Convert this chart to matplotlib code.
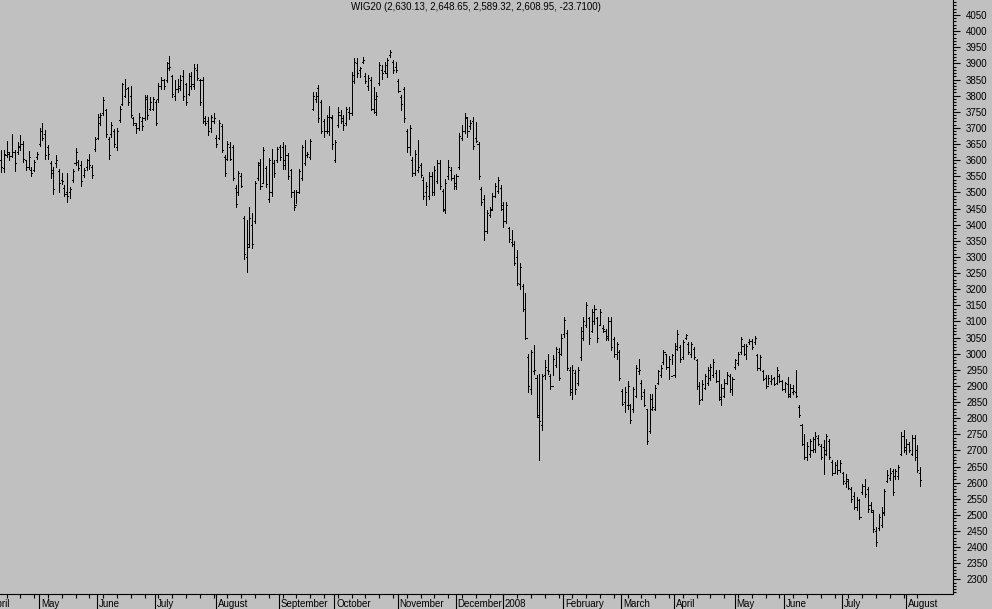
import matplotlib
matplotlib.use('Agg')
import matplotlib.pyplot as plt
import matplotlib.transforms as mtransforms
from matplotlib.ticker import MultipleLocator
import numpy as np

title = "WIG20 (2,630.13, 2,648.65, 2,589.32, 2,608.95, -23.7100)"

# month labels and the bar index where each month starts
month_labels = ['April', 'May', 'June', 'July', 'August', 'September', 'October',
                'November', 'December', '2008', 'February', 'March', 'April',
                'May', 'June', 'July', 'August']
month_starts = [-4, 14, 35, 56, 78, 101, 121, 144, 165, 182, 204, 225, 244,
                266, 284, 305, 328]

# daily OHLC, April 2007 - August 2008
highs = [
    # Apr 07
    3633, 3631, 3659, 3626, 3681, 3631, 3657, 3677, 3659, 3602, 3628, 3579, 3600, 3625,
    # May
    3701, 3714, 3693, 3647, 3598, 3579, 3616, 3572, 3561, 3522, 3559, 3517, 3572, 3639,
    3600, 3597, 3576, 3605, 3618, 3584, 3672,
    # Jun
    3742, 3745, 3795, 3760, 3672, 3717, 3696, 3700, 3768, 3840, 3853, 3828, 3830, 3735,
    3714, 3745, 3735, 3802, 3802, 3795, 3797,
    # Jul
    3786, 3838, 3859, 3853, 3905, 3923, 3864, 3848, 3853, 3864, 3879, 3838, 3869, 3874,
    3898, 3898, 3853, 3857, 3737, 3735, 3740, 3745,
    # Aug
    3678, 3726, 3712, 3616, 3660, 3657, 3647, 3523, 3567, 3559, 3426, 3416, 3455, 3435,
    3536, 3594, 3605, 3640, 3582, 3608, 3636, 3600, 3642,
    # Sep
    3647, 3657, 3647, 3621, 3574, 3507, 3507, 3574, 3647, 3662, 3626, 3667, 3812, 3812,
    3833, 3786, 3729, 3740, 3768, 3740,
    # Oct
    3664, 3766, 3755, 3740, 3766, 3766, 3874, 3916, 3916, 3890, 3919, 3869, 3864, 3859,
    3828, 3812, 3905, 3895, 3905, 3916, 3943, 3910, 3905,
    # Nov
    3853, 3802, 3828, 3698, 3709, 3610, 3631, 3662, 3590, 3548, 3533, 3564, 3564, 3581,
    3600, 3600, 3512, 3543, 3600, 3579, 3554,
    # Dec
    3556, 3683, 3709, 3747, 3735, 3724, 3735, 3719, 3657, 3517, 3492, 3445, 3455, 3497,
    3528, 3548, 3522,
    # Jan 08
    3471, 3471, 3393, 3383, 3350, 3323, 3280, 3217, 3188, 3000, 3011, 3026, 2933, 2938,
    2938, 2980, 2999, 2938, 2995, 3021, 3019, 3062,
    # Feb
    3114, 3073, 2959, 2964, 2949, 2959, 3083, 3114, 3161, 3114, 3140, 3150, 3114, 3140,
    3088, 3078, 3114, 3114, 3052, 3036, 3011,
    # Mar
    2892, 2897, 2915, 2845, 2897, 2964, 2985, 2917, 2892, 2830, 2876, 2876, 2902, 2948,
    2964, 3012, 3000, 2992, 3000,
    # Apr
    3033, 3072, 3026, 3041, 3062, 3036, 3036, 3021, 2985, 2912, 2917, 2938, 2959, 2969,
    2985, 2948, 2948, 2907, 2923, 2943, 2938, 2928,
    # May
    2985, 3005, 3052, 3031, 3031, 3044, 3046, 3054, 3000, 2995, 2948, 2933, 2933, 2933,
    2928, 2959, 2936, 2917,
    # Jun
    2912, 2928, 2907, 2902, 2950, 2840, 2783, 2752, 2726, 2736, 2742, 2757, 2747, 2721,
    2731, 2752, 2736, 2671, 2664, 2669, 2669,
    # Jul
    2633, 2628, 2612, 2586, 2571, 2555, 2550, 2597, 2610, 2588, 2540, 2514, 2462, 2504,
    2524, 2581, 2638, 2646, 2643, 2643, 2654, 2757, 2762,
    # Aug
    2736, 2726, 2747, 2747, 2716, 2649,
]
lows = [
    3564, 3564, 3610, 3600, 3610, 3567, 3618, 3631, 3595, 3569, 3572, 3550, 3566, 3603,
    3645, 3662, 3605, 3605, 3546, 3494, 3579, 3502, 3525, 3488, 3471, 3484, 3533, 3584,
    3569, 3520, 3548, 3571, 3574, 3545, 3629,
    3665, 3709, 3740, 3672, 3605, 3672, 3641, 3631, 3719, 3771, 3797, 3771, 3735, 3709,
    3685, 3693, 3695, 3724, 3729, 3755, 3755,
    3709, 3781, 3822, 3822, 3843, 3879, 3797, 3786, 3812, 3817, 3786, 3771, 3802, 3822,
    3822, 3848, 3771, 3714, 3709, 3678, 3688, 3714,
    3642, 3667, 3626, 3550, 3600, 3600, 3538, 3455, 3492, 3517, 3295, 3254, 3331, 3329,
    3404, 3538, 3512, 3533, 3517, 3471, 3488, 3548, 3595,
    3600, 3574, 3574, 3543, 3486, 3447, 3466, 3497, 3538, 3585, 3610, 3605, 3755, 3781,
    3719, 3683, 3672, 3683, 3678, 3636,
    3595, 3704, 3714, 3693, 3709, 3729, 3740, 3838, 3859, 3857, 3900, 3838, 3817, 3755,
    3745, 3740, 3833, 3853, 3869, 3859, 3921, 3869, 3874,
    3812, 3755, 3719, 3626, 3616, 3551, 3554, 3564, 3548, 3481, 3461, 3481, 3492, 3492,
    3528, 3512, 3443, 3435, 3543, 3538, 3512,
    3512, 3574, 3662, 3683, 3672, 3698, 3636, 3657, 3543, 3461, 3352, 3373, 3424, 3445,
    3486, 3497, 3445,
    3393, 3404, 3347, 3333, 3274, 3212, 3202, 3133, 3047, 2881, 2876, 2938, 2804, 2669,
    2763, 2923, 2938, 2892, 2933, 2959, 2917, 2995,
    3052, 2949, 2871, 2858, 2876, 2902, 2980, 3042, 3083, 3031, 3068, 3093, 3036, 3088,
    3068, 3042, 3042, 3011, 2990, 2985, 2917,
    2840, 2819, 2830, 2786, 2819, 2866, 2938, 2861, 2837, 2721, 2754, 2824, 2824, 2907,
    2928, 2969, 2954, 2923, 2969,
    2928, 3010, 2974, 2985, 3044, 3000, 2990, 2985, 2892, 2845, 2855, 2892, 2902, 2917,
    2928, 2912, 2855, 2840, 2866, 2907, 2881, 2871,
    2954, 2964, 3000, 2995, 2985, 3031, 3016, 3031, 2948, 2948, 2917, 2895, 2907, 2907,
    2902, 2907, 2912, 2886,
    2881, 2866, 2866, 2876, 2866, 2804, 2716, 2674, 2669, 2680, 2695, 2695, 2716, 2674,
    2628, 2685, 2674, 2623, 2633, 2628, 2633,
    2597, 2587, 2581, 2540, 2519, 2514, 2488, 2566, 2555, 2509, 2509, 2447, 2405, 2452,
    2462, 2499, 2602, 2607, 2561, 2612, 2612, 2685, 2695,
    2690, 2695, 2685, 2669, 2633, 2589,
]
opens = [
    3600, 3575, 3615, 3620, 3612, 3625, 3625, 3640, 3650, 3600, 3580, 3570, 3570, 3610,
    3650, 3690, 3680, 3640, 3590, 3570, 3590, 3565, 3540, 3515, 3500, 3500, 3540, 3590,
    3595, 3585, 3555, 3580, 3600, 3580, 3635,
    3670, 3715, 3745, 3755, 3665, 3680, 3690, 3640, 3725, 3775, 3800, 3825, 3800, 3730,
    3710, 3700, 3720, 3730, 3790, 3760, 3760,
    3780, 3790, 3830, 3850, 3850, 3885, 3860, 3800, 3820, 3825, 3860, 3835, 3805, 3830,
    3830, 3880, 3850, 3850, 3730, 3720, 3700, 3720,
    3670, 3670, 3705, 3610, 3605, 3640, 3640, 3515, 3500, 3550, 3420, 3300, 3340, 3400,
    3410, 3545, 3590, 3530, 3575, 3480, 3500, 3590, 3600,
    3640, 3640, 3600, 3615, 3570, 3500, 3460, 3500, 3545, 3590, 3615, 3610, 3760, 3790,
    3825, 3780, 3720, 3690, 3690, 3730,
    3600, 3710, 3740, 3730, 3715, 3750, 3745, 3845, 3900, 3880, 3905, 3860, 3830, 3850,
    3760, 3750, 3840, 3880, 3875, 3870, 3925, 3905, 3890,
    3845, 3795, 3820, 3690, 3640, 3600, 3560, 3570, 3585, 3540, 3500, 3490, 3550, 3500,
    3535, 3590, 3505, 3445, 3550, 3570, 3545,
    3520, 3580, 3670, 3690, 3730, 3705, 3720, 3670, 3650, 3510, 3480, 3380, 3430, 3450,
    3490, 3505, 3515,
    3450, 3410, 3390, 3345, 3340, 3300, 3215, 3210, 3140, 2990, 2890, 2945, 2925, 2805,
    2780, 2935, 2950, 2930, 2900, 2965, 3005, 3000,
    3060, 3065, 2950, 2880, 2940, 2910, 2990, 3050, 3090, 3110, 3070, 3100, 3110, 3090,
    3080, 3070, 3050, 3100, 3045, 3000, 3005,
    2885, 2850, 2840, 2840, 2830, 2870, 2945, 2910, 2880, 2830, 2760, 2830, 2830, 2910,
    2935, 2975, 3000, 2960, 2930,
    2935, 3015, 3020, 2990, 3048, 3030, 3000, 3015, 2980, 2900, 2860, 2895, 2910, 2925,
    2935, 2940, 2915, 2860, 2870, 2910, 2930, 2890,
    2958, 2970, 3005, 3025, 3000, 3035, 3040, 3035, 2995, 2955, 2945, 2925, 2900, 2915,
    2925, 2910, 2930, 2915,
    2890, 2905, 2870, 2880, 2880, 2835, 2780, 2720, 2680, 2690, 2700, 2705, 2740, 2715,
    2710, 2690, 2730, 2665, 2630, 2655, 2640,
    2630, 2600, 2605, 2580, 2560, 2525, 2545, 2570, 2590, 2580, 2530, 2510, 2450, 2460,
    2470, 2505, 2605, 2615, 2635, 2620, 2620, 2690, 2745,
    2700, 2720, 2690, 2740, 2700, 2630,
]
closes = [
    3580, 3620, 3625, 3612, 3625, 3590, 3645, 3650, 3605, 3580, 3610, 3560, 3595, 3620,
    3690, 3670, 3615, 3620, 3560, 3510, 3600, 3530, 3535, 3495, 3490, 3510, 3565, 3625,
    3575, 3535, 3570, 3600, 3585, 3555, 3665,
    3735, 3740, 3785, 3680, 3615, 3710, 3650, 3690, 3760, 3835, 3820, 3780, 3740, 3715,
    3700, 3735, 3705, 3795, 3740, 3780, 3790,
    3715, 3830, 3850, 3830, 3900, 3890, 3805, 3820, 3830, 3850, 3800, 3780, 3860, 3835,
    3885, 3855, 3780, 3720, 3715, 3690, 3735, 3730,
    3650, 3715, 3630, 3560, 3650, 3605, 3545, 3465, 3560, 3520, 3310, 3330, 3420, 3340,
    3530, 3585, 3520, 3630, 3525, 3600, 3590, 3560, 3635,
    3610, 3585, 3615, 3550, 3500, 3455, 3500, 3565, 3640, 3615, 3620, 3660, 3800, 3800,
    3730, 3690, 3690, 3735, 3735, 3650,
    3655, 3750, 3720, 3710, 3760, 3745, 3865, 3905, 3870, 3885, 3910, 3845, 3855, 3760,
    3790, 3800, 3895, 3870, 3895, 3910, 3935, 3880, 3880,
    3815, 3775, 3730, 3640, 3700, 3560, 3620, 3580, 3555, 3490, 3520, 3550, 3500, 3570,
    3590, 3520, 3450, 3530, 3580, 3545, 3530,
    3550, 3675, 3690, 3735, 3690, 3715, 3645, 3660, 3550, 3470, 3380, 3435, 3445, 3490,
    3520, 3540, 3460,
    3410, 3460, 3355, 3340, 3280, 3220, 3270, 3140, 3050, 2900, 3005, 2950, 2810, 2790,
    2930, 2960, 2945, 2900, 2985, 3015, 2925, 3050,
    3105, 2955, 2890, 2950, 2890, 2950, 3070, 3100, 3150, 3050, 3130, 3140, 3050, 3130,
    3075, 3055, 3100, 3020, 3000, 3030, 2925,
    2845, 2880, 2900, 2795, 2890, 2955, 2950, 2870, 2840, 2730, 2860, 2835, 2895, 2945,
    2955, 3005, 2960, 2985, 2995,
    3025, 3060, 2985, 3035, 3058, 3005, 3030, 2990, 2900, 2855, 2905, 2930, 2950, 2960,
    2975, 2915, 2865, 2895, 2910, 2935, 2890, 2920,
    2980, 3000, 3045, 3000, 3025, 3040, 3020, 3050, 2955, 2990, 2920, 2900, 2925, 2920,
    2905, 2950, 2915, 2890,
    2910, 2875, 2895, 2885, 2870, 2810, 2720, 2680, 2715, 2730, 2735, 2745, 2720, 2680,
    2700, 2745, 2680, 2630, 2655, 2640, 2660,
    2605, 2610, 2585, 2550, 2525, 2545, 2495, 2590, 2565, 2520, 2515, 2455, 2415, 2495,
    2510, 2575, 2625, 2630, 2570, 2635, 2650, 2745, 2710,
    2720, 2700, 2740, 2680, 2640, 2609,
]

bg = '#c0c0c0'
fig = plt.figure(figsize=(9.92, 6.09), dpi=100, facecolor=bg)
ax = fig.add_axes([0, 15 / 609, 952.5 / 992, 594 / 609])
ax.set_facecolor(bg)

x = np.arange(len(closes))
ax.vlines(x, lows, highs, color='black', lw=0.6, antialiased=False)
ax.hlines(opens, x - 0.38, x, color='black', lw=0.6, antialiased=False)
ax.hlines(closes, x, x + 0.38, color='black', lw=0.6, antialiased=False)

for s in ['top', 'left']:
    ax.spines[s].set_visible(False)
for s in ['right', 'bottom']:
    ax.spines[s].set_linewidth(0.8)

# price axis on the right
ax.yaxis.tick_right()
ax.yaxis.set_major_locator(MultipleLocator(50))
ax.yaxis.set_minor_locator(MultipleLocator(10))
ax.tick_params(axis='y', which='major', length=4.8, width=0.8, pad=5.0,
               labelsize=7, direction='out')
ax.tick_params(axis='y', which='minor', length=2.4, width=0.8, direction='out')

# time axis: month separators + weekly ticks
seps = np.array(month_starts) - 0.25
ax.set_xticks(seps)
ax.set_xticklabels([])
ax.set_xticks(np.arange(2, len(closes), 5), minor=True)
ax.tick_params(axis='x', which='major', length=11, width=0.8, direction='out')
ax.tick_params(axis='x', which='minor', length=2.9, width=0.8, direction='out')

# limits after the ticks, so set_xticks does not widen the view
ax.set_xlim(-0.36, 344.7)
ax.set_ylim(2255, 4096.5)
for lab in ax.get_yticklabels():
    lab.set_fontfamily('Liberation Sans')

trans = mtransforms.blended_transform_factory(ax.transData, ax.transAxes)
for pos, name in zip(seps, month_labels):
    ax.text(pos + 0.7, -0.009, name, transform=trans, ha='left', va='top',
            fontsize=7, family='Liberation Sans', clip_on=False)

fig.text(476 / 992, 1 - 7.5 / 609, title, ha='center', va='center',
         fontsize=7, family='Liberation Sans')

fig.savefig('out.png', dpi=100, facecolor=bg)
